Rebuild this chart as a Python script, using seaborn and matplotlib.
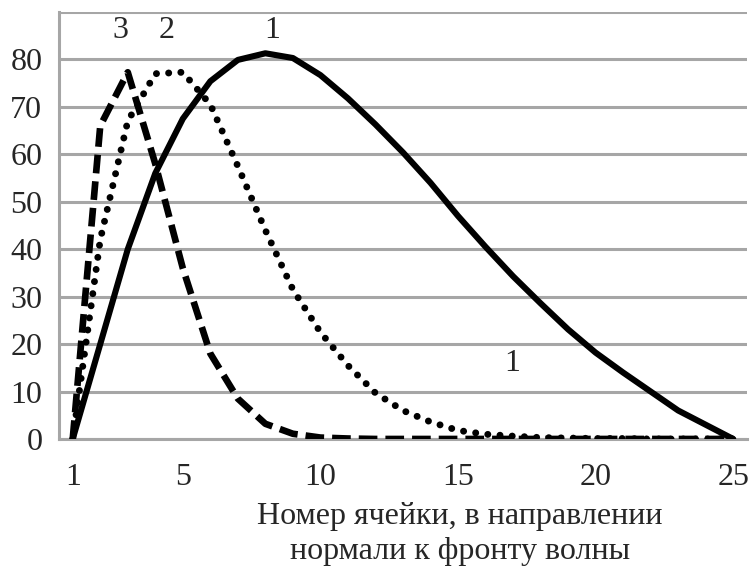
import numpy as np
import pandas as pd
import matplotlib
matplotlib.use("Agg")
import matplotlib.pyplot as plt
import seaborn as sns

cells = list(range(1, 26))
curve1 = [0, 20, 40, 56, 67.5, 75.4, 79.9, 81.3, 80.3, 76.7, 71.8, 66.3, 60.4, 54,
          47, 40.5, 34.3, 28.6, 23.1, 18.2, 14, 10, 6, 3, 0]
curve2 = [0, 42, 67, 77, 77.3, 70.5, 57.5, 44, 31.5, 22.5, 15.5, 9.7, 6, 3.6, 1.8,
          1, 0.6, 0.3, 0.2, 0.1, 0.1, 0, 0, 0, 0]
curve3 = [0, 66, 77.3, 58, 36, 18, 8.5, 3.2, 1.1, 0.3, 0.1, 0, 0, 0, 0, 0, 0, 0,
          0, 0, 0, 0, 0, 0, 0]
xticks = [1, 5, 10, 15, 20, 25]
yticks = [0, 10, 20, 30, 40, 50, 60, 70, 80]
xlabel = "Номер ячейки, в направлении\nнормали к фронту волны"

sns.set_style("white")
plt.rcParams['font.family'] = ['Liberation Serif', 'DejaVu Serif']

df = pd.DataFrame({"cell": cells, "c1": curve1, "c2": curve2, "c3": curve3})

fs = 23
fig = plt.figure(figsize=(7.54, 5.69), dpi=100)
ax = fig.add_axes([0.0782, 0.2285, 0.9907 - 0.0782, 0.9789 - 0.2285])

grid_col = "#a6a6a6"
for y in yticks + [90]:
    ax.axhline(y, color=grid_col, lw=2.2, zorder=0)

sns.lineplot(data=df, x="cell", y="c1", ax=ax, color="black", lw=4.4,
             solid_joinstyle="round", zorder=3)
sns.lineplot(data=df, x="cell", y="c2", ax=ax, color="black", lw=5.0,
             linestyle=(0, (0.01, 1.75)), dash_capstyle="round", zorder=3)
sns.lineplot(data=df, x="cell", y="c3", ax=ax, color="black", lw=4.8,
             linestyle=(0, (2.8, 1.2)), dash_capstyle="butt", zorder=3)

ax.set_xlim(0.5, 25.5)
ax.set_ylim(0, 90)
ax.set_yticks(yticks)
ax.set_xticks(xticks)
ax.set_xticks(np.arange(0.5, 26, 1.0), minor=True)
ax.tick_params(axis="x", which="major", length=0, pad=17, labelsize=fs)
ax.tick_params(axis="x", which="minor", length=7, width=2.2, color=grid_col)
ax.tick_params(axis="y", length=7, width=2.2, color=grid_col, pad=5, labelsize=fs)
ax.set_xlabel("")
ax.set_ylabel("")

for side in ["top", "right"]:
    ax.spines[side].set_visible(False)
ax.spines["left"].set_color(grid_col)
ax.spines["left"].set_linewidth(2.2)
ax.spines["bottom"].set_color(grid_col)
ax.spines["bottom"].set_linewidth(2.2)

ax.text(2.75, 86, "3", fontsize=fs, ha="center", va="center")
ax.text(4.4, 86, "2", fontsize=fs, ha="center", va="center")
ax.text(8.25, 86, "1", fontsize=fs, ha="center", va="center")
ax.text(16.97, 15.9, "1", fontsize=fs, ha="center", va="center")

fig.text(460 / 754, 1 - 534 / 569, xlabel, fontsize=fs, ha="center", va="center",
         linespacing=1.3)

fig.savefig("out.png", dpi=100)
